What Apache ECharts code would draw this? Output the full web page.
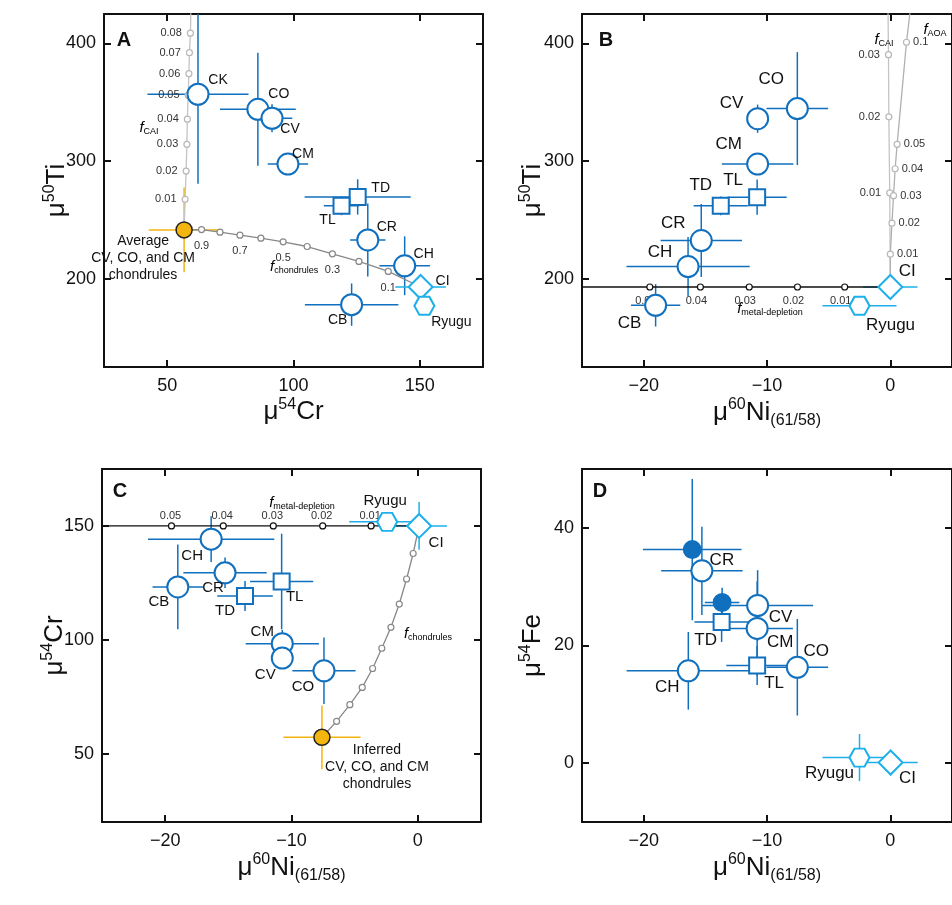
<!DOCTYPE html>
<html><head><meta charset="utf-8">
<script src="https://cdn.jsdelivr.net/npm/echarts@6/dist/echarts.min.js"></script>
<style>html,body{margin:0;padding:0;background:#fff}#c{width:952px;height:905px}</style>
</head><body><div id="c"></div>
<script>
// ---------- Panel A: mu54Cr (x) vs mu50Ti (y)
const A_names=['CK','CO','CV','CM','TD','TL','CR','CH','CB','CI','Ryugu'];
const A_x=[62.2,85.9,91.5,97.8,125.4,119,129.4,144,123,150.3,151.8];
const A_y=[356.8,344,336.4,297.5,269.5,262,233,211,178,193,177];
const A_xerr=[20,15,8,8,21,7,7,10,18.5,10,0];
const A_yerr=[76,48,12,9,15,8,31,25,18,4,0];
const A_avg=[56.7,241.5,14,36];
const A_fchond_x=[63.6,70.9,78.8,87.1,95.9,105.4,115.4,125.9,137.5];
const A_fchond_y=[241.8,239.6,237.0,234.5,231.4,227.4,221.2,214.7,206.2];
const A_fchond_lab=['0.9','0.8','0.7','0.6','0.5','0.4','0.3','0.2','0.1'];
const A_fcai_x=[57.1,57.5,57.8,58.0,58.3,58.6,58.8,59.2];
const A_fcai_y=[267.5,291.5,314.2,335.6,356,374.3,392.1,408.7];
const A_fcai_lab=['0.01','0.02','0.03','0.04','0.05','0.06','0.07','0.08'];
// ---------- Panel B: mu60Ni vs mu50Ti
const B_names=['CO','CV','CM','TL','TD','CR','CH','CB','CI','Ryugu'];
const B_x=[-7.54,-10.76,-10.76,-10.8,-13.75,-15.33,-16.4,-19.03,0,-2.5];
const B_y=[344.6,336,297.5,269.3,262,232.5,210.4,177.4,193,177];
const B_xerr=[2.5,0.7,2.9,2.4,2.2,3.3,5.0,2.0,2.2,3.0];
const B_yerr=[48,12,9,15,8,31,25,18,4,0];
const B_fmetal_x=[-19.5,-15.4,-11.44,-7.53,-3.7];
const B_fmetal_lab=['0.05','0.04','0.03','0.02','0.01'];
const B_fcai_x=[-0.05,-0.12,-0.15];
const B_fcai_y=[273,337.6,390.4];
const B_fcai_lab=['0.01','0.02','0.03'];
const B_faoa_x=[0,0.13,0.26,0.39,0.55,1.31];
const B_faoa_y=[220.9,247.2,270.6,293.5,314.2,401];
const B_faoa_lab=['0.01','0.02','0.03','0.04','0.05','0.1'];
// ---------- Panel C: mu60Ni vs mu54Cr
const C_names=['CH','CR','CB','TD','TL','CM','CV','CO','CI','Ryugu'];
const C_x=[-16.36,-15.26,-19,-13.68,-10.78,-10.73,-10.73,-7.43,0.1,-2.43];
const C_y=[144.2,129.4,123.2,119.2,125.6,98.3,92,86.4,150,151.8];
const C_xerr=[5,3.3,2,2.2,2.5,2.9,0.7,2.5,2.2,3];
const C_yerr=[10,6.7,18.6,6.6,21,6,4,14.6,10.5,0];
const C_inferred=[-7.59,57.2,3.06,14];
const C_fchond_x=[-6.43,-5.38,-4.40,-3.58,-2.85,-2.13,-1.47,-0.89,-0.37];
const C_fchond_y=[64.2,71.5,79.1,87.4,96.3,105.5,115.7,126.7,137.9];
const C_fmetal_x=[-19.5,-15.4,-11.44,-7.53,-3.7];
const C_fmetal_lab=['0.05','0.04','0.03','0.02','0.01'];
// ---------- Panel D: mu60Ni vs mu54Fe
const D_names=['','CR','','CV','TD','CM','TL','CO','CH','Ryugu','CI'];
const D_filled=[true,false,true,false,false,false,false,false,false,false,false];
const D_x=[-16.06,-15.28,-13.64,-10.76,-13.68,-10.8,-10.8,-7.54,-16.38,-2.5,0.02];
const D_y=[36.3,32.7,27.3,26.8,24.0,22.9,16.6,16.3,15.7,0.95,0.1];
const D_xerr=[4,3.3,1.4,4.5,2.2,2.9,2.5,2.5,5,3,2.2];
const D_yerr=[12,7.5,2.5,6,3.4,8,3.3,8.2,6.6,4,2.2];
// tick values
const A_xticks=[50,100,150], A_yticks=[200,300,400];
const Ni_ticks=[-20,-10,0];
const C_yticks=[50,100,150], D_yticks=[0,20,40];

// ---------- styles
const BLUE='#1170be', LBLUE='#1db0ea', GOLD='#f5b50f', FONT='Liberation Sans, Arial, sans-serif';
const labOff={
 A:{CK:[20,-14],CO:[21,-15],CV:[18,11],CM:[15,-10],TD:[23,-9],TL:[-14,14],CR:[19,-13],CH:[19,-12],CB:[-14,16],CI:[22,-6],Ryugu:[27,16]},
 B:{CO:[-26,-29],CV:[-26,-15],CM:[-29,-20],TL:[-24,-17],TD:[-20,-20],CR:[-28,-17],CH:[-28,-14],CB:[-26,18],CI:[17,-16],Ryugu:[31,19]},
 C:{CH:[-19,17],CR:[-12,15],CB:[-19,15],TD:[-20,15],TL:[13,15],CM:[-20,-12],CV:[-17,17],CO:[-21,16],CI:[17,17],Ryugu:[-2,-21]},
 D:{CR:[20,-10],CV:[23,12],TD:[-16,18],CM:[23,14],CO:[19,-16],TL:[17,18],CH:[-21,17],Ryugu:[-30,16],CI:[17,16]}
};
const labFont={A:14,B:17,C:15,D:17};
const DIAMOND='path://M0,-1L1,0L0,1L-1,0Z';
const HEX='path://M-0.5,-0.87L0.5,-0.87L1,0L0.5,0.87L-0.5,0.87L-1,0Z';

const grids=[
 {left:104,top:14,width:379,height:353},
 {left:582,top:14,width:381,height:353},
 {left:102,top:469,width:379,height:353},
 {left:582,top:469,width:381,height:353}
];
const xr=[[25,175],[-25,5],[-25,5],[-25,5]];
const yr=[[125,425],[125,425],[20,175],[-10,50]];
const xt=[A_xticks,Ni_ticks,Ni_ticks,Ni_ticks];
const yt=[A_yticks,A_yticks,C_yticks,D_yticks];
const supRich={b:{fontSize:26,fontFamily:FONT,color:'#111'},s:{fontSize:16,fontFamily:FONT,verticalAlign:'top',padding:[0,0,14,0],color:'#111'},u:{fontSize:16,fontFamily:FONT,padding:[16,0,0,0],color:'#111'}};
const xnames=['{b|μ}{s|54}{b|Cr}','{b|μ}{s|60}{b|Ni}{u|(61/58)}','{b|μ}{s|60}{b|Ni}{u|(61/58)}','{b|μ}{s|60}{b|Ni}{u|(61/58)}'];
const ynames=['{b|μ}{s|50}{b|Ti}','{b|μ}{s|50}{b|Ti}','{b|μ}{s|54}{b|Cr}','{b|μ}{s|54}{b|Fe}'];
const fmt=v=>String(v).replace('-','−');

const xAxis=[], yAxis=[];
grids.forEach((g,i)=>{
 const base={min:xr[i][0],max:xr[i][1],gridIndex:i,type:'value',splitLine:{show:false},
   axisLine:{show:true,onZero:false,lineStyle:{color:'#111',width:2}},
   axisTick:{inside:true,length:7,lineStyle:{color:'#111',width:2},customValues:xt[i]}};
 xAxis.push(Object.assign({},base,{position:'bottom',name:xnames[i],nameLocation:'middle',nameGap:30,nameMoveOverlap:false,nameTextStyle:{rich:supRich},
   axisLabel:{customValues:xt[i],formatter:fmt,fontSize:18,color:'#111',fontFamily:FONT,margin:10}}));
 xAxis.push(Object.assign({},base,{position:'top',axisLabel:{show:false}}));
 const ybase={min:yr[i][0],max:yr[i][1],gridIndex:i,type:'value',splitLine:{show:false},
   axisLine:{show:true,onZero:false,lineStyle:{color:'#111',width:2}},
   axisTick:{inside:true,length:7,lineStyle:{color:'#111',width:2},customValues:yt[i]}};
 yAxis.push(Object.assign({},ybase,{position:'left',name:ynames[i],nameLocation:'middle',nameGap:i%2?34:32,nameMoveOverlap:false,nameTextStyle:{rich:supRich},
   axisLabel:{customValues:yt[i],formatter:fmt,fontSize:18,color:'#111',fontFamily:FONT,margin:8}}));
 yAxis.push(Object.assign({},ybase,{position:'right',axisLabel:{show:false}}));
});

const series=[];
function errRender(params,api){
 const x=api.value(0),y=api.value(1),ex=api.value(2),ey=api.value(3),ci=api.value(4);
 const col=[BLUE,LBLUE,GOLD][ci];
 const l=api.coord([x-ex,y]),r=api.coord([x+ex,y]),t=api.coord([x,y+ey]),b=api.coord([x,y-ey]);
 return {type:'group',children:[
  {type:'line',shape:{x1:l[0],y1:l[1],x2:r[0],y2:r[1]},style:{stroke:col,lineWidth:1.5}},
  {type:'line',shape:{x1:t[0],y1:t[1],x2:b[0],y2:b[1]},style:{stroke:col,lineWidth:1.5}}]};
}
function addPanel(gi,key,names,X,Y,EX,EY,filled){
 const err=[]; const groups={c:[],s:[],d:[],h:[],f:[]};
 names.forEach((n,i)=>{
  const light=(n==='CI'||n==='Ryugu');
  err.push([X[i],Y[i],EX[i],EY[i],light?1:0]);
  let k='c'; if(n==='TD'||n==='TL')k='s'; if(n==='CI')k='d'; if(n==='Ryugu')k='h'; if(filled&&filled[i])k='f';
  const o=labOff[key][n]||[0,0];
  groups[k].push({value:[X[i],Y[i]],name:n,label:{show:!!n,offset:o}});
 });
 series.push({type:'custom',xAxisIndex:gi*2,yAxisIndex:gi*2,renderItem:errRender,data:err,clip:true,z:2,silent:true});
 const spec={c:['circle',21,BLUE,'#fff'],s:['rect',16,BLUE,'#fff'],d:[DIAMOND,24,LBLUE,'#fff'],h:[HEX,[20,18],LBLUE,'#fff'],f:['circle',17,BLUE,BLUE]};
 Object.keys(groups).forEach(k=>{
  if(!groups[k].length)return;
  const s=spec[k];
  series.push({type:'scatter',xAxisIndex:gi*2,yAxisIndex:gi*2,symbol:s[0],symbolSize:s[1],z:5,
   itemStyle:{color:s[3],borderColor:s[2],borderWidth:2,opacity:1},
   label:{show:true,position:'inside',formatter:'{b}',fontSize:labFont[key],color:'#111',textBorderWidth:0,fontFamily:FONT},
   data:groups[k]});
 });
}
function mixLine(gi,pts,color,symColor,labPos,labOff2,z){
 series.push({type:'line',xAxisIndex:gi*2,yAxisIndex:gi*2,z:z||3,silent:true,
  lineStyle:{color:color,width:1.3},symbol:'circle',symbolSize:6,
  itemStyle:{color:'#fff',borderColor:symColor,borderWidth:1.2},
  label:{show:false,position:labPos,offset:labOff2,fontSize:11,color:'#333',fontFamily:FONT,formatter:p=>p.data.t||''},
  data:pts});
}
function goldPoint(gi,v,text,dx,dy){
 series.push({type:'custom',xAxisIndex:gi*2,yAxisIndex:gi*2,renderItem:errRender,data:[[v[0],v[1],v[2],v[3],2]],clip:true,z:2,silent:true});
 series.push({type:'custom',xAxisIndex:gi*2,yAxisIndex:gi*2,z:6,silent:true,data:[[v[0],v[1]]],
  renderItem:(p,api)=>{const c=api.coord([api.value(0),api.value(1)]);
   return {type:'group',children:[
    {type:'circle',shape:{cx:c[0],cy:c[1],r:8},style:{fill:GOLD,stroke:'#222',lineWidth:1.5}},
    {type:'text',x:c[0]+dx,y:c[1]+dy,style:{text:text,fill:'#111',font:'14px '+FONT,lineHeight:17,align:'center',verticalAlign:'middle'}}]};}});
}

// Panel A
addPanel(0,'A',A_names,A_x,A_y,A_xerr,A_yerr);
goldPoint(0,A_avg,'Average\nCV, CO, and CM\nchondrules',-41,28);
mixLine(0,[{value:[A_avg[0],A_avg[1]],symbol:'none'}].concat(A_fchond_x.map((x,i)=>({value:[x,A_fchond_y[i]],t:A_fchond_lab[i],label:{show:i%2===0}}))).concat([{value:[A_x[9],A_y[9]],symbol:'none'}]),'#888','#888','bottom',[0,2]);
mixLine(0,[{value:[A_avg[0],A_avg[1]],symbol:'none'}].concat(A_fcai_x.map((x,i)=>({value:[x,A_fcai_y[i]],t:A_fcai_lab[i],label:{show:true}}))).concat([{value:[59.5,440],symbol:'none'}]),'#c4c4c4','#b8b8b8','left',[0,0]);
// Panel B
addPanel(1,'B',B_names,B_x,B_y,B_xerr,B_yerr);
mixLine(1,[{value:[-26,193],symbol:'none'}].concat(B_fmetal_x.map((x,i)=>({value:[x,193],t:B_fmetal_lab[i],label:{show:true}}))).concat([{value:[0,193],symbol:'none'}]),'#111','#111','bottom',[-4,0]);
mixLine(1,[{value:[0,193],symbol:'none'}].concat(B_fcai_x.map((x,i)=>({value:[x,B_fcai_y[i]],t:B_fcai_lab[i],label:{show:true}}))).concat([{value:[-0.2,440],symbol:'none'}]),'#c4c4c4','#b8b8b8','left',[0,0]);
mixLine(1,[{value:[0,193],symbol:'none'}].concat(B_faoa_x.map((x,i)=>({value:[x,B_faoa_y[i]],t:B_faoa_lab[i],label:{show:true}}))).concat([{value:[1.75,440],symbol:'none'}]),'#b0b0b0','#b8b8b8','right',[-2,0]);
// Panel C
addPanel(2,'C',C_names,C_x,C_y,C_xerr,C_yerr);
goldPoint(2,C_inferred,'Inferred\nCV, CO, and CM\nchondrules',55,30);
mixLine(2,[{value:[C_inferred[0],C_inferred[1]],symbol:'none'}].concat(C_fchond_x.map((x,i)=>({value:[x,C_fchond_y[i]]}))).concat([{value:[C_x[8],C_y[8]],symbol:'none'}]),'#888','#888','bottom',[0,0]);
mixLine(2,[{value:[-26,150],symbol:'none'}].concat(C_fmetal_x.map((x,i)=>({value:[x,150],t:C_fmetal_lab[i],label:{show:true}}))).concat([{value:[0,150],symbol:'none'}]),'#111','#111','top',[-1,4]);
// Panel D
addPanel(3,'D',D_names,D_x,D_y,D_xerr,D_yerr,D_filled);

const fRich={i:{fontStyle:'italic',fontSize:15,fontFamily:FONT,color:'#222'},s:{fontSize:9,fontFamily:FONT,padding:[8,0,0,0],color:'#222'}};
function ftext(x,y,sub,al){return {type:'text',x:x,y:y,z:10,style:{text:'{i|f}{s|'+sub+'}',rich:fRich,align:al||'center',verticalAlign:'middle'}};}
function letter(x,y,t){return {type:'text',x:x,y:y,z:10,style:{text:t,font:'bold 20px '+FONT,fill:'#111',align:'center',verticalAlign:'middle'}};}

const chart=echarts.init(document.getElementById('c'),null,{renderer:'canvas'});
chart.setOption({animation:false,backgroundColor:'#fff',grid:grids,xAxis:xAxis,yAxis:yAxis,series:series,
 graphic:[letter(124,40,'A'),letter(606,40,'B'),letter(120,491,'C'),letter(600,491,'D'),
  ftext(149,128,'CAI'),ftext(270,267,'chondrules','left'),
  ftext(884,40,'CAI'),ftext(935,30,'AOA'),ftext(770,309,'metal-depletion'),
  ftext(302,503,'metal-depletion'),ftext(428,634,'chondrules')]});
</script></body></html>
